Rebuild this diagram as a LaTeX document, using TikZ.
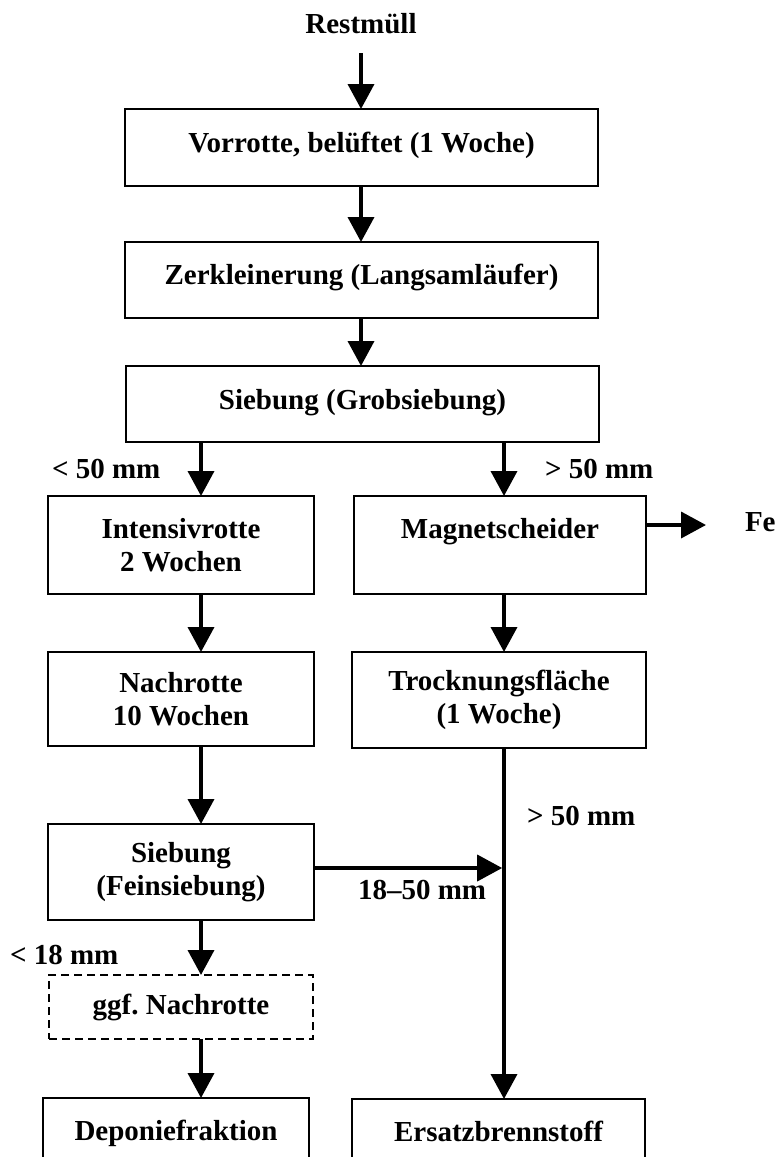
\documentclass[tikz,border=0pt]{standalone}
\usepackage{fontspec}
\setmainfont{Liberation Serif}
\usetikzlibrary{arrows.meta}
\frenchspacing
\begin{document}
\begin{tikzpicture}[x=1pt,y=-1pt,
  every node/.style={font=\fontsize{29}{33}\selectfont\bfseries, inner sep=0pt, outer sep=0pt},
  procbox/.style={draw, line width=1.8pt, align=center},
  optbox/.style={procbox, dash pattern=on 8pt off 5pt},
  flow/.style={line width=3.7pt, -{Triangle[width=26pt,length=25pt]}},
  lbl/.style={anchor=base west}]
  % page frame (the two result boxes run off the lower edge)
  \clip (0,0) rectangle (775,1157);

  % guide positions of the vertical flow lines
  \coordinate (lx) at (201,0);
  \coordinate (mx) at (361,0);
  \coordinate (rx) at (504,0);

  % input
  \node[anchor=base] (rest) at (361,33) {Restmüll};
  \coordinate (in) at (361,53);

  % main line
  \node[procbox, minimum width=473pt, text height=43pt, text depth=34pt] (vorrotte) at (361.5,147.5) {Vorrotte, belüftet (1 Woche)};
  \node[procbox, minimum width=473pt, text height=42pt, text depth=34pt] (zerkl) at (361.5,280) {Zerkleinerung (Langsamläufer)};
  \node[procbox, minimum width=473pt, text height=43pt, text depth=33pt] (grob) at (362.5,404) {Siebung (Grobsiebung)};

  % fine fraction branch
  \node[procbox, minimum width=266pt, minimum height=98pt] (intens) at (181,545) {Intensivrotte\\2 Wochen};
  \node[procbox, minimum width=266pt, minimum height=94pt] (nach) at (181,699) {Nachrotte\\10 Wochen};
  \node[procbox, minimum width=266pt, minimum height=96pt] (fein) at (181,872) {Siebung\\(Feinsiebung)};
  \node[optbox, minimum width=264pt, minimum height=64pt] (ggf) at (181,1007) {ggf. Nachrotte};
  \node[procbox, minimum width=266pt, text height=42pt, text depth=30pt] (depon) at (176,1134) {Deponiefraktion};

  % coarse fraction branch
  \node[procbox, minimum width=292pt, text height=42pt, text depth=56pt] (magnet) at (500,545) {Magnetscheider};
  \node[procbox, minimum width=294pt, minimum height=96pt] (trock) at (499,700) {Trocknungsfläche\\(1 Woche)};
  \node[procbox, minimum width=293pt, text height=42pt, text depth=30pt] (ersatz) at (498.5,1135) {Ersatzbrennstoff};

  % iron output
  \coordinate (fetip) at (706,525);
  \node[lbl] (fe) at (745,531) {Fe};

  % junction of the 18-50 mm stream
  \coordinate (jn) at (504,868);

  % connectors
  \draw[flow] (in) -- (vorrotte.north -| in);
  \draw[flow] (vorrotte.south -| mx) -- (zerkl.north -| mx);
  \draw[flow] (zerkl.south -| mx) -- (grob.north -| mx);
  \draw[flow] (grob.south -| lx) -- (intens.north -| lx);
  \draw[flow] (grob.south -| rx) -- (magnet.north -| rx);
  \draw[flow] (magnet.east |- fetip) -- (fetip);
  \draw[flow] (intens.south -| lx) -- (nach.north -| lx);
  \draw[flow] (magnet.south -| rx) -- (trock.north -| rx);
  \draw[flow] (nach.south -| lx) -- (fein.north -| lx);
  \draw[flow] (fein.south -| lx) -- (ggf.north -| lx);
  \draw[flow] (ggf.south -| lx) -- (depon.north -| lx);
  \draw[flow] (trock.south -| rx) -- (ersatz.north -| rx);
  \draw[flow, shorten >=1.8pt] (fein.east |- jn) -- (jn);

  % size labels
  \node[lbl] (l50) at (52,478) {< 50 mm};
  \node[lbl] (g50a) at (545,478) {> 50 mm};
  \node[lbl] (g50b) at (527,825) {> 50 mm};
  \node[lbl] (m1850) at (358,899) {18--50 mm};
  \node[lbl] (l18) at (10,964) {< 18 mm};
\end{tikzpicture}
\end{document}
